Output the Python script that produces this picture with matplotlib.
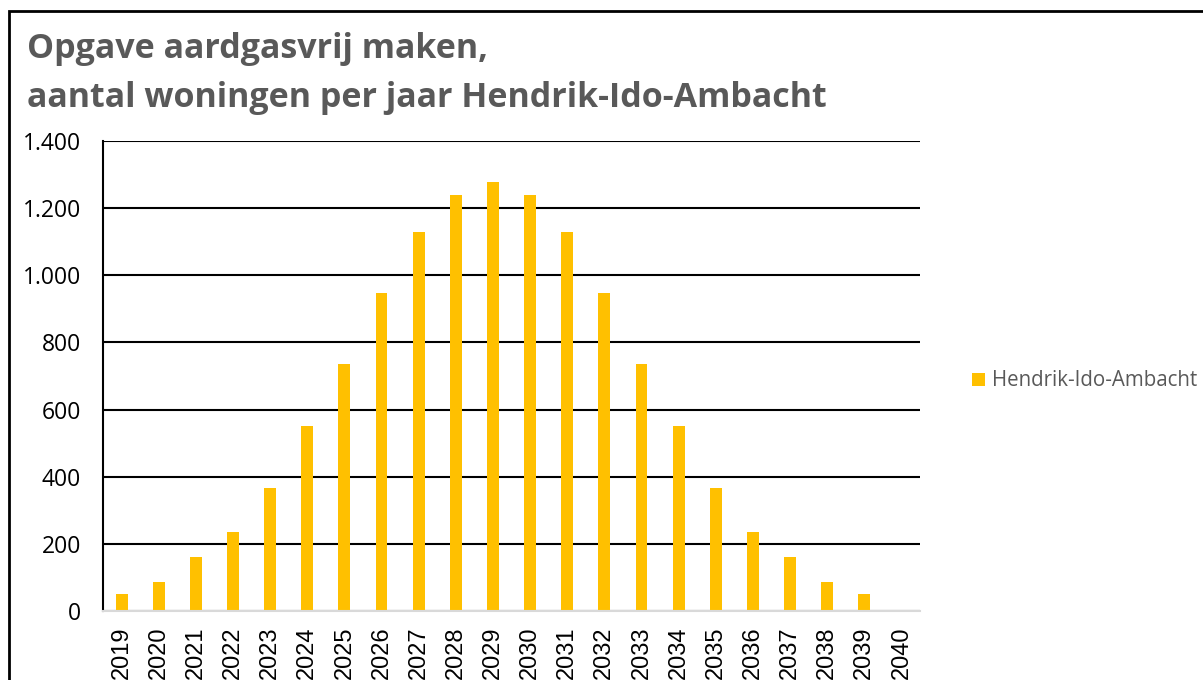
import matplotlib
matplotlib.use("Agg")
import matplotlib.pyplot as plt
from matplotlib.patches import Rectangle, Patch

# Data
years = [str(y) for y in range(2019, 2041)]
woningen = [50, 86, 161, 235, 367, 552, 736, 946, 1130, 1240, 1278,
            1240, 1130, 946, 736, 552, 367, 235, 161, 86, 50, 0]
yticks = [0, 200, 400, 600, 800, 1000, 1200, 1400]
ytick_labels = ["0", "200", "400", "600", "800", "1.000", "1.200", "1.400"]
series_name = "Hendrik-Ido-Ambacht"
title_lines = ["Opgave aardgasvrij maken,",
               "aantal woningen per jaar Hendrik-Ido-Ambacht"]

W, H = 1203, 680
fig = plt.figure(figsize=(W / 100, H / 100), dpi=100)

# axes placement in pixels
left, right, top, bottom = 103, 920, 141, 611
ax = fig.add_axes([left / W, 1 - bottom / H, (right - left) / W, (bottom - top) / H])

x = range(len(years))
ax.bar(x, woningen, width=0.32, color="#FFC000", zorder=3)

ax.set_xlim(-0.5, len(years) - 0.5)
ax.set_ylim(0, 1400)
ax.set_yticks(yticks)
ax.set_yticklabels(ytick_labels, fontsize=16.5, family="Open Sans", color="#000000")
ax.set_xticks(list(x))
ax.set_xticklabels(years, rotation=90, fontsize=17, family="Liberation Sans")
ax.tick_params(axis="y", length=0, pad=16)
ax.tick_params(axis="x", length=0, pad=11)

ax.grid(axis="y", color="black", linewidth=1.5, zorder=1)
ax.set_axisbelow(True)
for s in ["top", "right"]:
    ax.spines[s].set_visible(False)
ax.spines["left"].set_color("black")
ax.spines["left"].set_linewidth(1.5)
ax.spines["bottom"].set_color("#d9d9d9")
ax.spines["bottom"].set_linewidth(1.5)
ax.spines["bottom"].set_zorder(4)

# title, two lines
for line, base in zip(title_lines, [58, 107]):
    fig.text(27 / W, 1 - base / H, line, fontsize=24.5, fontweight="bold",
             family="Open Sans", color="#595959", va="baseline", ha="left")

# legend
handle = Patch(facecolor="#FFC000", edgecolor="none")
fig.legend([handle], [series_name], loc="center left",
           bbox_to_anchor=(962 / W, 1 - 381 / H), frameon=False,
           prop={"family": "Open Sans", "size": 14.8}, labelcolor="#595959",
           handlelength=0.62, handleheight=0.62, handletextpad=0.35, borderpad=0)

# outer frame
fig.patches.append(Rectangle((9 / W, -0.1), 1.2, 1 - 11 / H + 0.1,
                             transform=fig.transFigure, fill=False,
                             edgecolor="black", linewidth=2))

fig.savefig("out.png", dpi=100)
